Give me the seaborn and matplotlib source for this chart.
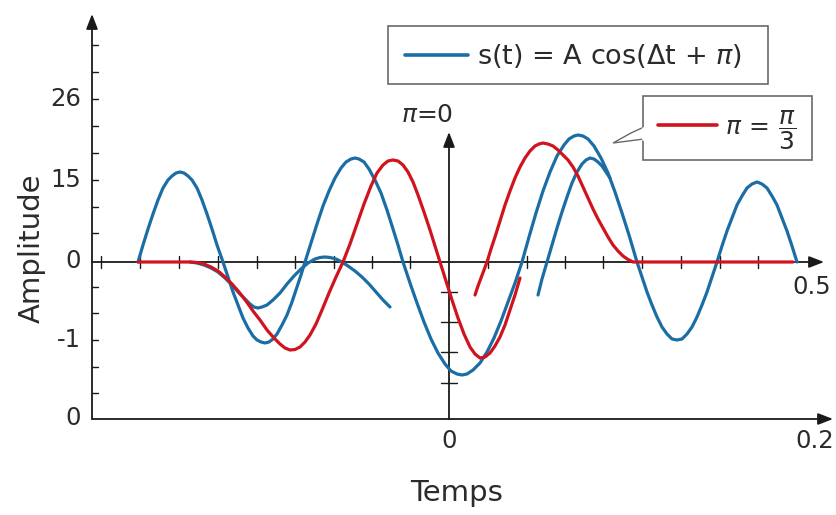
import matplotlib
matplotlib.use("Agg")
import matplotlib.pyplot as plt
import seaborn as sns
import pandas as pd
from matplotlib.patches import Rectangle, Polygon

# ---------------- data (screen units: x right, y down) -------------
blue_main_x = [138, 143, 148, 153, 158, 163, 168, 172, 176, 180, 184, 188, 192, 197, 202, 207, 212, 217, 223,
               228, 233, 238, 243, 248, 253, 257, 261, 265, 269, 273, 277, 282, 287, 292, 297, 301, 305,
               311, 317, 323, 329, 335, 341, 346, 351, 355, 359, 364, 369, 375, 381, 387, 393, 398, 403,
               410, 417, 424, 431, 438, 445, 451, 457, 462, 467, 473, 480, 487, 494, 501, 508, 515, 522,
               529, 536, 543, 550, 557, 564, 569, 574, 578, 583, 588, 594, 601, 608, 615, 622, 629, 637,
               642, 647, 652, 657, 662, 667, 672, 677, 682, 687, 692, 697, 702, 707, 712, 717,
               722, 727, 732, 737, 742, 747, 752, 757, 762, 767, 772, 777, 782, 787, 792, 797]
blue_main_y = [262, 245, 229, 214, 200, 188, 180, 176, 173, 172, 173, 176, 180, 188, 200, 214, 229, 245, 262,
               277, 292, 305, 318, 328, 336, 340, 342, 343, 342, 339, 334, 325, 315, 302, 287, 275, 262,
               243, 224, 206, 191, 178, 168, 162, 159, 158, 159, 162, 169, 180, 193, 210, 229, 245, 262,
               283, 303, 322, 339, 353, 364, 371, 374, 375, 374, 370, 363, 352, 338, 321, 302, 283, 262,
               237, 213, 191, 172, 156, 145, 139, 136, 135, 136, 139, 146, 158, 173, 192, 213, 235, 262,
               277, 292, 305, 317, 327, 334, 339, 340, 339, 334, 327, 317, 305, 292, 277, 262,
               246, 231, 218, 205, 196, 188, 184, 182, 184, 188, 196, 205, 218, 231, 246, 262]

blue_right_x = [538, 542, 547, 552, 557, 562, 567, 572, 577, 582, 586, 590, 594, 598, 602, 606, 610]
blue_right_y = [295, 279, 262, 245, 228, 212, 197, 183, 172, 164, 160, 158, 159, 162, 166, 172, 178]

blue_left_x = [190, 197, 204, 211, 218, 225, 232, 239, 245, 250, 254, 258, 262, 267, 273, 280, 287,
               294, 301, 308, 315, 320, 325, 330, 336, 342, 348, 355, 362, 369, 376, 383, 390]
blue_left_y = [262, 263, 265, 268, 272, 278, 285, 293, 299, 304, 307, 308, 307, 305, 300, 293, 284,
               276, 269, 263, 259, 257.5, 257, 257.5, 259, 262, 266, 271, 277, 284, 292, 300, 307]

red_left_x = [138, 190, 197, 204, 211, 218, 225, 232, 239, 246, 253, 260, 267, 274, 280, 285, 290,
              295, 300, 305, 310, 316, 322, 329, 336, 343, 350, 357, 364, 371, 377, 383, 388, 393,
              398, 403, 408, 413, 418, 424, 430, 435, 440, 446, 452, 458, 464, 470, 475, 480, 485,
              490, 495, 500, 505, 510, 515, 520]
red_left_y = [262, 262, 262.5, 264, 267, 271, 277, 284, 292, 301, 311, 320, 330, 338, 344, 348, 350,
              349.5, 347, 342, 335, 324, 310, 293, 277, 262, 244, 224, 204, 186, 173, 165, 161, 160,
              161, 165, 172, 182, 195, 212, 230, 246, 262, 281, 300, 318, 334, 347, 354, 358, 357,
              353, 346, 337, 325, 310, 295, 278]

red_right_x = [475, 478, 481, 484, 487, 491, 495, 500, 505, 510, 515, 520, 525, 530, 535, 539, 543,
               548, 553, 558, 563, 568, 573, 578, 583, 588, 593, 598, 603, 608, 613, 618, 623, 628,
               633, 793]
red_right_y = [295, 286, 278, 270, 262, 249, 237, 221, 205, 191, 178, 167, 158, 151, 146, 144, 143,
               144, 146, 150, 155, 160, 167, 176, 187, 198, 209, 219, 228, 237, 245, 251, 256, 259.5,
               262, 262]

y_tick_labels = ["26", "15", "0", "-1", "0"]
y_tick_values = [99, 180, 261, 340, 418]
y_minor_ticks = [45, 72, 99, 126, 153, 180, 207, 233, 287, 313, 340, 367, 393]
x_tick_labels = ["0", "0.2"]
mid_axis_label = "0.5"
mid_axis_ticks = [101, 140, 179, 218, 257, 295, 334, 372, 410,
                  488, 527, 565, 603, 642, 681, 720, 758]
center_axis_ticks = [292, 322, 352, 383]

legend_text = r"s(t) = A cos(Δt + $\pi$)"
callout_text = r"$\pi\,=\,\dfrac{\pi}{3}$"
axis_title_x = "Temps"
axis_title_y = "Amplitude"
center_label = r"$\pi$=0"

BLUE = "#1b6ea5"
RED = "#d0141e"
AX = "#1a1a1a"
TXT = "#2b2b2b"

# ---------------- figure ----------------
sns.set_style("white")
plt.rcParams["font.family"] = ["DejaVu Sans"]
plt.rcParams["mathtext.fontset"] = "dejavusans"

fig = plt.figure(figsize=(8.37, 5.15), dpi=100)
ax = fig.add_axes([0, 0, 1, 1])


def arrow(x0, y0, x1, y1):
    ax.annotate("", xy=(x1, y1), xytext=(x0, y0),
                arrowprops=dict(arrowstyle="-|>,head_length=0.9,head_width=0.35",
                                color=AX, lw=1.3, shrinkA=0, shrinkB=0),
                zorder=1)


# axes
arrow(92, 419, 92, 14)        # left vertical
arrow(92, 419, 833, 419)      # bottom
arrow(92, 262, 824, 262)      # middle horizontal
arrow(449, 419, 449, 132)     # center vertical

for yv in y_minor_ticks:
    ax.plot([92, 98], [yv, yv], color=AX, lw=1.0, zorder=1)
for xv in mid_axis_ticks:
    ax.plot([xv, xv], [256, 268], color=AX, lw=1.0, zorder=1)
for yv in center_axis_ticks:
    ax.plot([441, 457], [yv, yv], color=AX, lw=1.0, zorder=1)


# curves
def curve(xs, ys, color):
    df = pd.DataFrame({"x": xs, "y": ys})
    sns.lineplot(data=df, x="x", y="y", sort=False, estimator=None, ax=ax,
                 color=color, lw=2.3, zorder=3, solid_joinstyle="round",
                 solid_capstyle="round")


curve(blue_main_x, blue_main_y, BLUE)
curve(blue_right_x, blue_right_y, BLUE)
curve(blue_left_x, blue_left_y, BLUE)
curve(red_left_x, red_left_y, RED)
curve(red_right_x, red_right_y, RED)
ax.set_xlim(0, 837)
ax.set_ylim(515, 0)
ax.axis("off")

# tick labels and titles
for lab, yv in zip(y_tick_labels, y_tick_values):
    ax.text(81, yv, lab, ha="right", va="center", fontsize=17.5, color=TXT)
ax.text(449, 441, x_tick_labels[0], ha="center", va="center", fontsize=17.5, color=TXT)
ax.text(815, 441, x_tick_labels[1], ha="center", va="center", fontsize=17.5, color=TXT)
ax.text(812, 287, mid_axis_label, ha="center", va="center", fontsize=17.5, color=TXT)
ax.text(457, 493, axis_title_x, ha="center", va="center", fontsize=21, color=TXT)
ax.text(32, 248, axis_title_y, ha="center", va="center", rotation=90, fontsize=21, color=TXT)
ax.text(427, 115, center_label, ha="center", va="center", fontsize=18, color=TXT)

# legend box
ax.add_patch(Rectangle((388, 26), 380, 58, facecolor="white", edgecolor="#6a6a6a",
                       lw=1.2, zorder=4))
ax.plot([405, 468], [55, 55], color=BLUE, lw=2.6, zorder=5)
ax.text(477, 56, legend_text, ha="left", va="center", fontsize=19.5, color=TXT, zorder=5)

# callout box
ax.add_patch(Rectangle((643, 96), 169, 64, facecolor="white", edgecolor="#6a6a6a",
                       lw=1.2, zorder=4))
ax.add_patch(Polygon([(644, 127), (631, 133), (613, 143), (644, 139)], closed=False,
                     facecolor="white", edgecolor="#6a6a6a", lw=1.0, zorder=5))
ax.plot([643.5, 643.5], [127.5, 138.5], color="white", lw=2.0, zorder=6)
ax.plot([658, 717], [125, 125], color=RED, lw=2.6, zorder=5)
ax.text(725, 130, callout_text, ha="left", va="center", fontsize=18, color=TXT, zorder=5)

fig.savefig("out.png", dpi=100, facecolor="white")
